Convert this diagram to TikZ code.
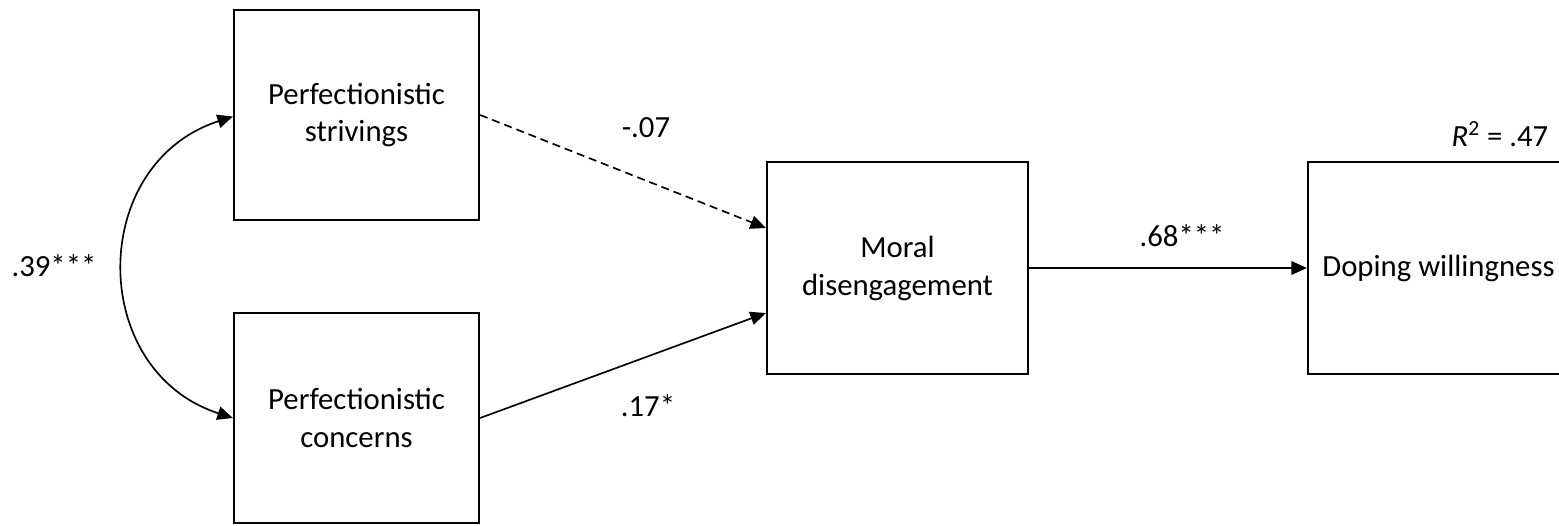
\documentclass[tikz,border=0pt]{standalone}
\usepackage{fontspec}
\setmainfont{Carlito}
\usetikzlibrary{arrows.meta}

\tikzset{
  varbox/.style={draw, line width=1.25pt, minimum width=4.9cm, minimum height=4.2cm,
    align=center, font=\fontsize{17.5}{21.6}\selectfont},
  path/.style={line width=0.95pt, -{Triangle[length=0.31cm, width=0.27cm]}},
  coef/.style={font=\fontsize{17.5}{21.6}\selectfont}
}

\begin{document}
\begin{tikzpicture}
  \useasboundingbox (0,0) rectangle (31.18,10.5);
  \clip (0,0) rectangle (31.18,10.5);
  % variables
  \node[varbox] (ps) at (7.13, 8.2) {Perfectionistic\\strivings};
  \node[varbox] (pc) at (7.13, 2.14) {Perfectionistic\\concerns};
  \node[varbox, minimum width=5.22cm, minimum height=4.24cm] (md) at (17.95, 5.14) {Moral\\disengagement};
  \node[varbox, minimum width=5.22cm, minimum height=4.24cm] (dw) at (28.77, 5.14) {Doping willingness};
  % paths
  \draw[path, {Triangle[length=0.31cm, width=0.27cm]}-{Triangle[length=0.31cm, width=0.27cm]}]
    ([yshift=-0.03cm]ps.west) to[out=198, in=162, looseness=1.3] (pc.west);
  \draw[path, dash pattern=on 0.16cm off 0.1cm] (ps.east) -- ([yshift=0.8cm]md.west);
  \draw[path] (pc.east) -- ([yshift=-0.9cm]md.west);
  \draw[path] (md.east) -- (dw.west);
  % coefficients
  \node[coef] (r1) at (1.08, 5.18) {.39***};
  \node[coef] (b1) at (12.92, 7.94) {-.07};
  \node[coef] (b2) at (12.96, 2.38) {.17*};
  \node[coef] (b3) at (23.64, 5.78) {.68***};
  \node[coef] (rsq) at (30.0, 7.82) {\textit{R}\textsuperscript{2} = .47};
\end{tikzpicture}
\end{document}
